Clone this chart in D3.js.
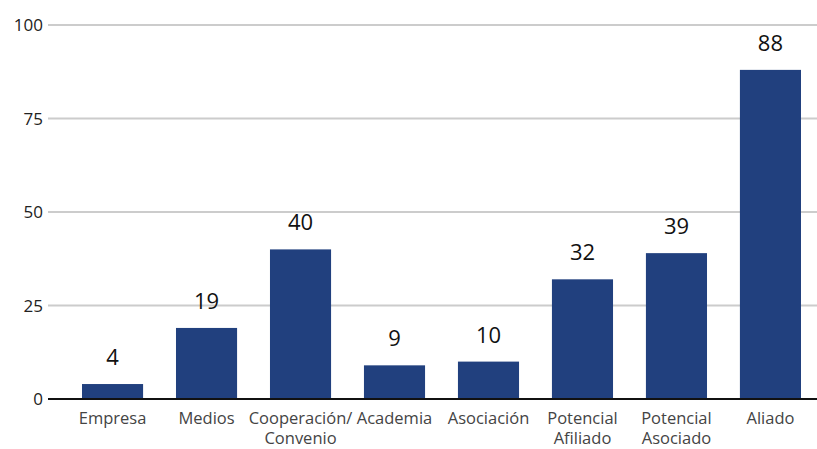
<!DOCTYPE html>
<html><head><meta charset="utf-8">
<script src="https://cdn.jsdelivr.net/npm/d3@7"></script>
<style>body{margin:0;background:#fff;} text{font-family:"Open Sans",sans-serif;}</style>
</head><body>
<svg id="c" width="817" height="449"></svg>
<script>
const categories = [["Empresa"],["Medios"],["Cooperación/","Convenio"],["Academia"],["Asociación"],["Potencial","Afiliado"],["Potencial","Asociado"],["Aliado"]];
const values = [4,19,40,9,10,32,39,88];
const yTicks = [0,25,50,75,100];

const svg = d3.select("#c");
const x = d3.scaleBand().domain(d3.range(values.length)).range([82,801]).paddingInner(0.35).paddingOuter(0);
const y = d3.scaleLinear().domain([0,100]).range([399,25]);

svg.append("g").selectAll("line").data(yTicks.filter(d=>d>0)).join("line")
  .attr("x1",48).attr("x2",817).attr("y1",d=>y(d)).attr("y2",d=>y(d))
  .attr("stroke","#cccccc").attr("stroke-width",2);

svg.append("g").selectAll("text").data(yTicks).join("text")
  .attr("x",43).attr("y",d=>y(d)+6).attr("text-anchor","end")
  .attr("font-size",17).attr("fill","#222").text(d=>d);

svg.append("g").selectAll("rect").data(values).join("rect")
  .attr("x",(d,i)=>x(i)).attr("width",x.bandwidth())
  .attr("y",d=>y(d)).attr("height",d=>y(0)-y(d)).attr("fill","#21407e");

svg.append("line").attr("x1",48).attr("x2",817).attr("y1",y(0)).attr("y2",y(0))
  .attr("stroke","#111").attr("stroke-width",2);

svg.append("g").selectAll("text").data(values).join("text")
  .attr("x",(d,i)=>x(i)+x.bandwidth()/2).attr("y",d=>y(d)-19).attr("text-anchor","middle")
  .attr("font-size",22).attr("fill","#111").text(d=>d);

const cl = svg.append("g").selectAll("text").data(categories).join("text")
  .attr("x",(d,i)=>x(i)+x.bandwidth()/2).attr("y",424).attr("text-anchor","middle")
  .attr("font-size",16.5).attr("fill","#444");
cl.selectAll("tspan").data(d=>d).join("tspan")
  .attr("x",function(){return this.parentNode.getAttribute("x");})
  .attr("dy",(d,i)=>i===0?0:20).text(d=>d);
</script>
</body></html>
